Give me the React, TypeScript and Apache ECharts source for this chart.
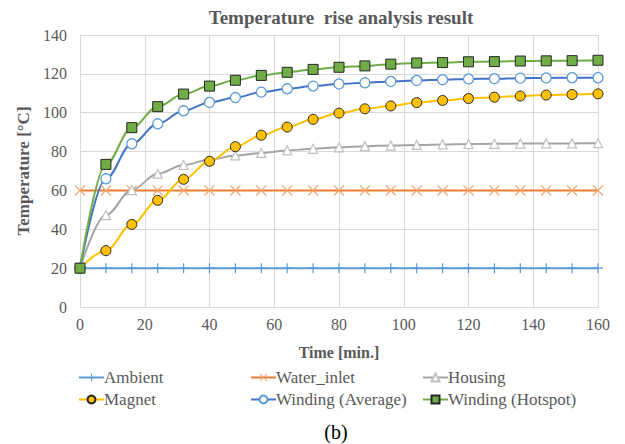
import React, { useEffect, useRef } from "react";
import * as echarts from "echarts";

const times = [0, 8, 16, 24, 32, 40, 48, 56, 64, 72, 80, 88, 96, 104, 112, 120, 128, 136, 144, 152, 160];
const ambient = [20, 20, 20, 20, 20, 20, 20, 20, 20, 20, 20, 20, 20, 20, 20, 20, 20, 20, 20, 20, 20];
const waterInlet = [60, 60, 60, 60, 60, 60, 60, 60, 60, 60, 60, 60, 60, 60, 60, 60, 60, 60, 60, 60, 60];
const housing = [20, 47.3, 60.2, 68.6, 73.1, 75.8, 78.0, 79.3, 80.6, 81.4, 82.2, 82.8, 83.1, 83.4, 83.7, 83.9, 84.0, 84.1, 84.2, 84.2, 84.3];
const magnet = [20, 29.0, 42.5, 54.9, 65.7, 75.0, 82.5, 88.4, 92.6, 96.6, 99.8, 102.0, 103.5, 105.2, 106.3, 107.3, 108.0, 108.6, 109.1, 109.4, 109.7];
const windingAvg = [20, 66.0, 84.0, 94.3, 101.0, 105.3, 107.8, 110.6, 112.3, 113.7, 114.8, 115.4, 116.1, 116.6, 117.0, 117.4, 117.5, 117.8, 117.9, 118.0, 118.0];
const windingHot = [20, 73.4, 92.3, 103.1, 109.6, 113.7, 116.7, 119.2, 120.8, 122.3, 123.4, 124.1, 125.0, 125.6, 125.8, 126.2, 126.3, 126.6, 126.7, 126.8, 127.0];

const legendNames = ["Ambient", "Water_inlet", "Housing", "Magnet", "Winding (Average)", "Winding (Hotspot)"];

const FONT = "Liberation Serif";
const GRAY = "#595959";

const PLUS = "path://M4.4,0 L5.6,0 L5.6,4.4 L10,4.4 L10,5.6 L5.6,5.6 L5.6,10 L4.4,10 L4.4,5.6 L0,5.6 L0,4.4 L4.4,4.4 Z";
const CROSS = "path://M0.8,0 L5,4.2 L9.2,0 L10,0.8 L5.8,5 L10,9.2 L9.2,10 L5,5.8 L0.8,10 L0,9.2 L4.2,5 L0,0.8 Z";

function pairs(vals: number[]) {
  return times.map((t, i) => [t, vals[i]]);
}

export default function App() {
  const ref = useRef<HTMLDivElement>(null);
  useEffect(() => {
    if (!ref.current) return;
    const chart = echarts.init(ref.current, undefined, { renderer: "svg" });
    const legendPos = [
      [78, 369],
      [250, 369],
      [422, 369],
      [78, 391],
      [250, 391],
      [422, 391],
    ];
    const legends = legendNames.map((n, i) => ({
      data: [n],
      left: legendPos[i][0],
      top: legendPos[i][1],
      itemWidth: 25,
      itemHeight: 10,
      itemGap: 0,
      padding: 0,
      textStyle: { fontFamily: FONT, fontSize: 17, color: GRAY, padding: [0, 0, 0, -5] },
    }));
    const common = { type: "line", smooth: 0.35, smoothMonotone: "x", z: 2 };
    chart.setOption({
      animation: false,
      backgroundColor: "#ffffff",
      title: {
        text: "Temperature  rise analysis result",
        left: 336,
        top: 3,
        textAlign: "center",
        textStyle: { fontFamily: FONT, fontSize: 19, fontWeight: "bold", color: GRAY },
      },
      legend: legends,
      grid: { left: 80, right: 27, top: 35, bottom: 137, containLabel: false },
      xAxis: {
        type: "value",
        min: 0,
        max: 160,
        interval: 20,
        name: "Time [min.]",
        nameLocation: "middle",
        nameGap: 37,
        nameTextStyle: { fontFamily: FONT, fontSize: 16, fontWeight: "bold", color: GRAY },
        axisLine: { show: true, lineStyle: { color: "#D9D9D9", width: 1 } },
        axisTick: { show: false },
        axisLabel: { fontFamily: FONT, fontSize: 16, color: GRAY, margin: 9 },
        splitLine: { show: true, lineStyle: { color: "#D9D9D9", width: 1 } },
      },
      yAxis: {
        type: "value",
        min: 0,
        max: 140,
        interval: 20,
        name: "Temperature [°C]",
        nameLocation: "middle",
        nameGap: 47,
        nameTextStyle: { fontFamily: FONT, fontSize: 17, fontWeight: "bold", color: GRAY },
        axisLine: { show: true, lineStyle: { color: "#D9D9D9", width: 1 } },
        axisTick: { show: false },
        axisLabel: { fontFamily: FONT, fontSize: 16, color: GRAY, margin: 13 },
        splitLine: { show: true, lineStyle: { color: "#D9D9D9", width: 1 } },
      },
      series: [
        {
          ...common,
          name: "Ambient",
          data: pairs(ambient),
          symbol: PLUS,
          symbolSize: 10,
          lineStyle: { color: "#5B9BD5", width: 2 },
          itemStyle: { color: "#5B9BD5" },
        },
        {
          ...common,
          name: "Water_inlet",
          data: pairs(waterInlet),
          symbol: CROSS,
          symbolSize: 11,
          lineStyle: { color: "#ED7D31", width: 2 },
          itemStyle: { color: "#F4A571" },
        },
        {
          ...common,
          name: "Housing",
          data: pairs(housing),
          symbol: "triangle",
          symbolSize: 9,
          lineStyle: { color: "#A5A5A5", width: 2 },
          itemStyle: { color: "#ffffff", borderColor: "#C0C0C0", borderWidth: 1.2 },
        },
        {
          ...common,
          name: "Magnet",
          data: pairs(magnet),
          symbol: "circle",
          symbolSize: 10,
          lineStyle: { color: "#FFC000", width: 2 },
          itemStyle: { color: "#FFC000", borderColor: "#262626", borderWidth: 1 },
        },
        {
          ...common,
          name: "Winding (Average)",
          data: pairs(windingAvg),
          symbol: "circle",
          symbolSize: 10,
          lineStyle: { color: "#4472C4", width: 2 },
          itemStyle: { color: "#ffffff", borderColor: "#5B9BD5", borderWidth: 1.3 },
        },
        {
          ...common,
          name: "Winding (Hotspot)",
          data: pairs(windingHot),
          symbol: "rect",
          symbolSize: 10,
          lineStyle: { color: "#70AD47", width: 2 },
          itemStyle: { color: "#70AD47", borderColor: "#262626", borderWidth: 1 },
        },
      ],
      graphic: [
        {
          type: "text",
          x: 336,
          y: 432,
          style: {
            text: "(b)",
            fontFamily: FONT,
            fontSize: 20,
            fill: "#000000",
            textAlign: "center",
            textVerticalAlign: "middle",
          },
        },
      ],
    });
    return () => chart.dispose();
  }, []);
  return <div ref={ref} style={{ width: 625, height: 444, position: "absolute", left: 0, top: 0 }} />;
}
